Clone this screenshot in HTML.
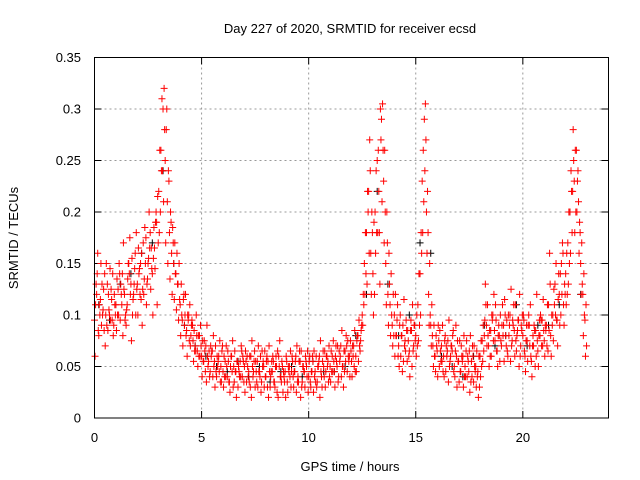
<!DOCTYPE html>
<html><head><meta charset="utf-8"><style>
html,body{margin:0;padding:0;background:#fff;}
svg{display:block;font-family:"Liberation Sans",sans-serif;}
</style></head><body>
<svg id="chart" width="640" height="480">
<text x="350" y="33" font-size="13" text-anchor="middle">Day 227 of 2020, SRMTID for receiver ecsd</text>
<text x="350" y="471" font-size="13" text-anchor="middle">GPS time / hours</text>
<text transform="translate(18,238) rotate(-90)" font-size="13" text-anchor="middle">SRMTID / TECUs</text>
<g id="grid"></g>
<g id="ticks"></g>
<g id="marks"></g>
<rect x="94.5" y="57.5" width="514" height="360.5" fill="none" stroke="#000" stroke-width="1"/>
</svg>
<script>
const xTicks=[0,5,10,15,20];
const yTicks=[0,0.05,0.1,0.15,0.2,0.25,0.3,0.35];
const yTickLabels=["0","0.05","0.1","0.15","0.2","0.25","0.3","0.35"];
const slotStart=0, slotStep=0.1;
const seriesA=[95,120,80,150,105,70,130,100,115,90,110,125,95,140,120,105,150,130,115,160,130,145,160,120,175,150,180,140,165,190,220,260,300,250,210,180,160,150,140,130,110,95,90,85,100,80,75,70,65,80,60,55,70,50,45,65,55,40,60,50,45,55,40,35,60,50,45,30,55,40,50,35,45,60,40,30,55,45,35,50,40,55,30,45,35,50,60,40,25,45,35,50,45,30,60,40,55,35,45,50,40,30,55,45,35,60,40,50,45,55,50,60,45,55,40,70,50,65,45,60,55,70,60,80,65,100,150,180,220,160,140,200,250,180,290,230,150,120,110,90,100,80,70,60,90,75,55,65,85,70,80,110,140,230,290,200,120,90,70,60,65,50,70,60,45,75,55,65,50,60,55,45,60,50,40,65,55,35,50,45,60,75,80,90,70,85,100,75,65,80,70,90,80,60,100,75,85,65,95,70,80,60,75,90,55,70,85,65,80,95,75,90,110,80,100,130,95,120,150,110,140,170,200,180,230,260,210,150,120,95];
const seriesB=[60,140,110,90,125,100,85,145,95,120,85,100,130,80,95,110,140,75,120,100,100,120,90,135,110,155,125,100,145,110,180,240,210,170,150,135,120,115,105,95,80,70,100,60,75,90,55,65,50,60,40,75,35,55,70,40,30,60,45,35,30,40,65,25,45,35,20,50,40,60,25,60,35,20,45,55,30,40,65,30,55,20,40,60,30,25,50,35,45,20,25,40,60,45,25,35,20,50,30,40,55,45,25,35,50,20,30,40,60,35,35,45,30,50,65,40,30,55,75,40,40,50,45,55,75,90,120,130,160,120,100,160,180,130,210,170,110,90,80,70,60,95,50,80,55,65,85,40,50,90,60,75,100,180,240,160,90,70,50,45,40,85,55,40,70,35,60,80,40,30,35,70,30,40,60,25,40,70,30,20,40,55,95,70,50,60,75,110,50,55,90,55,70,100,55,95,60,80,50,90,100,45,55,70,40,90,60,50,100,70,60,70,85,60,75,100,70,90,120,90,110,130,160,220,180,200,160,120,80,60];
const seriesC=[110,160,100,130,85,150,120,95,140,110,135,150,120,170,100,135,175,155,130,180,165,150,125,185,130,200,165,155,190,215,260,310,320,280,240,200,185,170,160,150,130,115,120,100,110,95,85,100,80,90,75,65,90,65,60,80,70,50,75,65,60,70,55,50,75,65,55,45,70,55,65,50,60,75,55,45,70,60,50,65,60,70,45,55,50,65,75,55,40,60,50,65,55,45,70,55,65,50,60,65,60,45,65,60,50,75,55,65,60,70,65,75,60,70,55,85,65,80,60,75,70,85,75,95,85,120,180,220,270,200,190,240,260,300,305,260,200,160,140,120,120,110,90,80,115,95,75,85,110,90,100,140,180,260,305,220,150,110,90,80,90,65,90,75,60,95,70,85,65,75,75,60,80,65,55,80,70,50,65,60,75,90,130,110,85,100,120,95,80,100,110,115,95,80,125,90,110,85,120,85,95,75,90,110,70,85,120,80,95,115,90,110,160,100,125,150,115,140,170,130,160,200,240,280,260,230,190,170,140,110];
const seriesD=[130,85,115,100,140,90,105,125,80,100,100,140,110,125,90,150,120,100,145,125,140,115,170,150,135,165,145,185,200,170,200,240,280,300,230,190,170,140,130,115,100,120,80,95,70,90,65,80,60,70,55,45,60,40,65,50,45,55,35,70,40,50,35,60,30,45,55,40,65,35,55,40,30,50,65,35,45,25,55,40,30,45,55,35,60,20,40,50,35,55,45,30,40,55,35,65,30,45,55,25,35,60,40,30,55,45,65,30,50,40,45,55,70,35,60,50,45,70,55,65,60,45,80,70,90,110,140,200,240,180,120,180,220,270,260,200,170,130,100,80,80,60,100,45,70,85,60,95,65,75,70,90,160,210,270,180,100,80,60,70,75,55,45,80,65,50,70,45,90,55,45,55,40,75,45,35,60,45,40,30,50,65,110,80,60,95,85,65,90,75,80,100,65,90,70,110,75,95,60,100,65,90,100,60,80,50,75,95,70,85,85,65,130,90,110,95,140,100,160,120,120,150,220,250,200,240,180,130,100,70];
const blackStep=0.5;
const seriesBlack=[110,95,130,140,160,170,240,150,90,70,60,50,45,55,40,50,35,45,50,40,55,45,45,50,80,120,220,130,80,100,170,160,60,50,40,60,90,70,80,110,70,90,90,110,200,120];

const X=t=>94.5+t*(514/24);
const Y=v=>418-v*(360.5/0.35);
const NS="http://www.w3.org/2000/svg";
const grid=document.getElementById('grid'),ticks=document.getElementById('ticks'),marks=document.getElementById('marks');
function mk(tag,attrs,parent){const e=document.createElementNS(NS,tag);for(const k in attrs)e.setAttribute(k,attrs[k]);parent.appendChild(e);return e;}
xTicks.forEach(t=>{
  const x=X(t);
  if(t>0){const g=mk('line',{x1:x,x2:x,y1:57.5,y2:418,stroke:'#999','stroke-dasharray':'2,3'},grid);
  
  }
  mk('line',{x1:x,x2:x,y1:418,y2:411,stroke:'#000'},ticks);
  mk('line',{x1:x,x2:x,y1:57.5,y2:64.5,stroke:'#000'},ticks);
  const l=mk('text',{x:x,y:442,'font-size':13,'text-anchor':'middle'},ticks);l.textContent=String(t);
  
  
});
yTicks.forEach((v,i)=>{
  const y=Y(v);
  if(i>0&&i<yTicks.length-1){const g=mk('line',{x1:94.5,x2:608.5,y1:y,y2:y,stroke:'#999','stroke-dasharray':'2,3'},grid);
  
  }
  mk('line',{x1:94.5,x2:101.5,y1:y,y2:y,stroke:'#000'},ticks);
  mk('line',{x1:601.5,x2:608.5,y1:y,y2:y,stroke:'#000'},ticks);
  const l=mk('text',{x:81,y:y+4.5,'font-size':13,'text-anchor':'end'},ticks);l.textContent=yTickLabels[i];
  
  
});
function plus(t,v,color,name){
  const x=X(t),y=Y(v);
  const p=mk('path',{d:`M${x-3.5},${y}h7M${x},${y-3.5}v7`,stroke:color,'stroke-width':1,fill:'none'},marks);
  
  
}
seriesBlack.forEach((v,i)=>plus(slotStart+i*blackStep+0.2,v/1000,'#000','black-point'));
[[seriesA,0],[seriesB,0.025],[seriesC,0.05],[seriesD,0.075]].forEach(([s,off])=>{
  s.forEach((v,i)=>plus(slotStart+i*slotStep+off,v/1000,'#f00','red-point'));
});
</script>
</body></html>
